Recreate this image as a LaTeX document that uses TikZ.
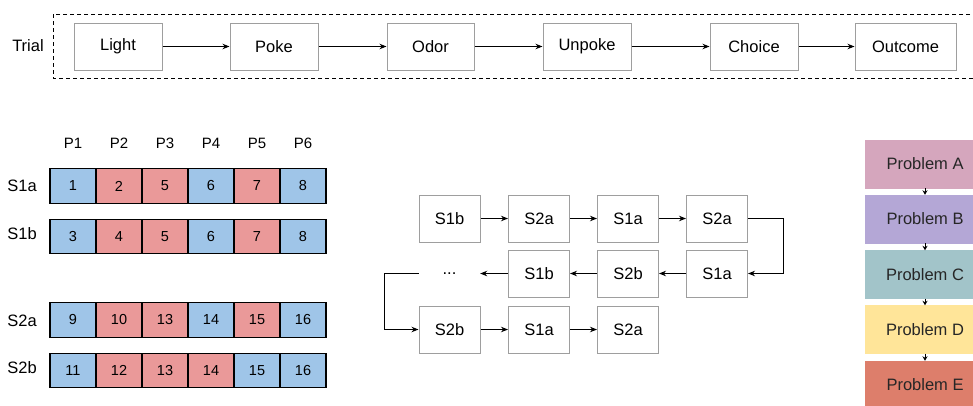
\documentclass[tikz,border=0pt]{standalone}
\usepackage{fontspec}
\setmainfont{Liberation Sans}
\usetikzlibrary{arrows.meta}
\definecolor{cblue}{HTML}{9FC5E8}
\definecolor{cred}{HTML}{EA9999}
\definecolor{boxgray}{HTML}{9E9E9E}
\definecolor{pa}{HTML}{D5A6BD}
\definecolor{pb}{HTML}{B4A7D6}
\definecolor{pc}{HTML}{A2C4C9}
\definecolor{pd}{HTML}{FFE599}
\definecolor{pe}{HTML}{DD7E6B}
\begin{document}
\begin{tikzpicture}[x=1pt,y=-1pt,
  lbl/.style={inner sep=0pt, font=\fontsize{16.5}{18}\selectfont},
  box/.style={draw=boxgray, line width=1pt, minimum width=88pt, minimum height=47pt, inner sep=0pt, font=\fontsize{16.5}{18}\selectfont},
  fbox/.style={draw=boxgray, line width=1pt, minimum width=61pt, minimum height=47pt, inner sep=0pt, font=\fontsize{16.5}{18}\selectfont},
  ghost/.style={minimum width=61pt, minimum height=47pt, inner sep=0pt, font=\fontsize{16.5}{18}\selectfont},
  cell/.style={draw=black, line width=1.3pt, minimum width=46pt, minimum height=34.5pt, inner sep=0pt, font=\fontsize{14.5}{16}\selectfont},
  prob/.style={minimum width=120pt, minimum height=48pt, inner sep=0pt, font=\fontsize{16.5}{18}\selectfont, text=black!85},
  arr/.style={-{Stealth[length=7pt,width=5.5pt]}, line width=1pt},
  sarr/.style={-{Stealth[length=4.5pt,width=5pt]}, line width=0.8pt},
  trialframe/.style={draw=black, line width=1pt, dash pattern=on 4pt off 3pt}
]
\useasboundingbox (0,0) rectangle (973,405);
\begin{scope}
\clip (0,0) rectangle (973,405);

% ---- Trial row ----
\draw[trialframe] (53,14) rectangle (990,78);
\node[lbl] (trial) at (28,45.5) {Trial};
\node[box] (light) at (118,46.5) {Light};
\node[box] (poke) at (274,46.5) {Poke};
\node[box, minimum width=87pt] (odor) at (430.5,46.5) {Odor};
\node[box] (unpoke) at (587,46.5) {Unpoke};
\node[box] (choice) at (754,46.5) {Choice};
\node[box, minimum width=101pt] (outcome) at (905.5,46.5) {Outcome};
\draw[arr] (light) -- (poke);
\draw[arr] (poke) -- (odor);
\draw[arr] (odor) -- (unpoke);
\draw[arr] (unpoke) -- (choice);
\draw[arr] (choice) -- (outcome);

% ---- Grid ----
\foreach \i/\p in {1/P1,2/P2,3/P3,4/P4,5/P5,6/P6}
  \node[lbl, font=\fontsize{15}{17}\selectfont] (head\i) at (27+46*\i,143) {\p};
\node[lbl] (lS1a) at (22,186) {S1a};
\node[lbl] (lS1b) at (22,233.5) {S1b};
\node[lbl] (lS2a) at (22,321) {S2a};
\node[lbl] (lS2b) at (22,367.5) {S2b};
\foreach \i/\c/\n in {1/cblue/1,2/cred/2,3/cred/5,4/cblue/6,5/cred/7,6/cblue/8}
  \node[cell, fill=\c] (a\i) at (27+46*\i,186) {\n};
\foreach \i/\c/\n in {1/cblue/3,2/cred/4,3/cred/5,4/cblue/6,5/cred/7,6/cblue/8}
  \node[cell, fill=\c] (b\i) at (27+46*\i,236.5) {\n};
\foreach \i/\c/\n in {1/cblue/9,2/cred/10,3/cred/13,4/cblue/14,5/cred/15,6/cblue/16}
  \node[cell, fill=\c] (c\i) at (27+46*\i,320) {\n};
\foreach \i/\c/\n in {1/cblue/11,2/cred/12,3/cred/13,4/cred/14,5/cblue/15,6/cblue/16}
  \node[cell, fill=\c] (d\i) at (27+46*\i,370.5) {\n};

% ---- Middle flow ----
\node[fbox] (m11) at (449.5,218.5) {S1b};
\node[fbox] (m12) at (539,218.5) {S2a};
\node[fbox] (m13) at (628,218.5) {S1a};
\node[fbox] (m14) at (717,218.5) {S2a};
\node[ghost] (m21) at (449.5,273.5) {...};
\node[fbox] (m22) at (539,273.5) {S1b};
\node[fbox] (m23) at (628,273.5) {S2b};
\node[fbox] (m24) at (717,273.5) {S1a};
\node[fbox] (m31) at (449.5,329.5) {S2b};
\node[fbox] (m32) at (539,329.5) {S1a};
\node[fbox] (m33) at (628,329.5) {S2a};
\draw[arr] (m11) -- (m12);
\draw[arr] (m12) -- (m13);
\draw[arr] (m13) -- (m14);
\draw[arr] (m14.east) -- ++(35,0) |- (m24.east);
\draw[arr] (m24) -- (m23);
\draw[arr] (m23) -- (m22);
\draw[arr] (m22) -- (m21);
\draw[arr] (m21.west) -- ++(-34,0) |- (m31.west);
\draw[arr] (m31) -- (m32);
\draw[arr] (m32) -- (m33);

% ---- Problems ----
\node[prob, fill=pa, draw=pa] (pA) at (925,164) {Problem A};
\node[prob, fill=pb, draw=pb] (pB) at (925,219) {Problem B};
\node[prob, fill=pc, draw=pc] (pC) at (925,274.5) {Problem C};
\node[prob, fill=pd, draw=pd] (pD) at (925,329.5) {Problem D};
\node[prob, fill=pe, draw=pe] (pE) at (925,385) {Problem E};
\draw[sarr] (pA) -- (pB);
\draw[sarr] (pB) -- (pC);
\draw[sarr] (pC) -- (pD);
\draw[sarr] (pD) -- (pE);
\end{scope}
\end{tikzpicture}
\end{document}
